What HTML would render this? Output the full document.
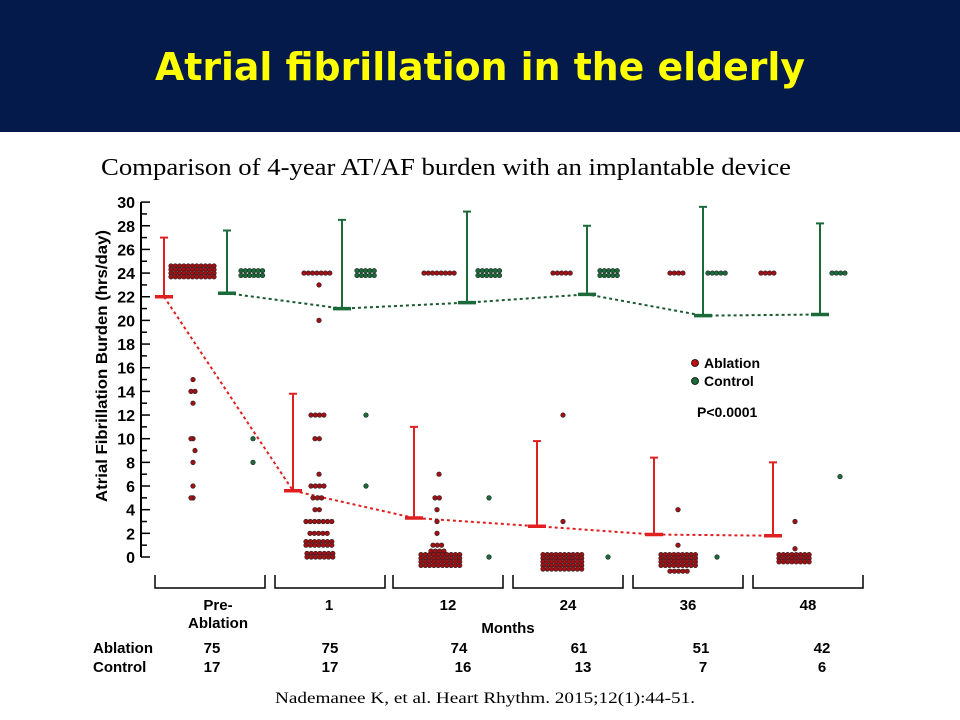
<!DOCTYPE html><html><head><style>
body{margin:0;width:960px;height:720px;background:#fff;overflow:hidden;font-family:"Liberation Sans",sans-serif}
.ban{position:absolute;left:0;top:0;width:960px;height:132px;background:#041a4a}
</style></head><body>
<div class="ban"></div>
<svg id="s" width="960" height="720" style="position:absolute;left:0;top:0" font-family="Liberation Sans, sans-serif">
<text x="155" y="80" fill="#ffff00" font-family="DejaVu Sans, sans-serif" font-weight="bold" font-size="38" textLength="650" lengthAdjust="spacingAndGlyphs">Atrial fibrillation in the elderly</text>
<text x="101" y="175" font-family="Liberation Serif, serif" font-size="24" textLength="690" lengthAdjust="spacingAndGlyphs">Comparison of 4-year AT/AF burden with an implantable device</text>
<text transform="translate(107,366) rotate(-90)" font-size="16" font-weight="bold" text-anchor="middle" x="0" textLength="272" lengthAdjust="spacingAndGlyphs">Atrial Fibrillation Burden (hrs/day)</text>
<g id="ax" stroke="#000" stroke-width="2"></g>
<g id="g"></g>
<g font-size="15" font-weight="bold" text-anchor="middle">
<text x="218" y="610">Pre-</text><text x="218" y="628">Ablation</text>
<text x="329" y="610">1</text><text x="448" y="610">12</text><text x="568" y="610">24</text><text x="688" y="610">36</text><text x="808" y="610">48</text>
<text x="508" y="633">Months</text>
<text x="93" y="653" text-anchor="start">Ablation</text><text x="93" y="672" text-anchor="start">Control</text>
<text x="212" y="653">75</text><text x="330" y="653">75</text><text x="459" y="653">74</text><text x="579" y="653">61</text><text x="701" y="653">51</text><text x="822" y="653">42</text>
<text x="212" y="672">17</text><text x="330" y="672">17</text><text x="463" y="672">16</text><text x="583" y="672">13</text><text x="703" y="672">7</text><text x="822" y="672">6</text>
</g>
<circle cx="695" cy="363" r="3.5" fill="#c01010" stroke="#000" stroke-width="0.8"/>
<circle cx="695" cy="381" r="3.5" fill="#1a6a3a" stroke="#000" stroke-width="0.8"/>
<g font-size="14" font-weight="bold"><text x="704" y="368">Ablation</text><text x="704" y="386">Control</text><text x="697" y="417">P&lt;0.0001</text></g>
<text x="275" y="703" font-family="Liberation Serif, serif" font-size="16" textLength="420" lengthAdjust="spacingAndGlyphs">Nademanee K, et al. Heart Rhythm. 2015;12(1):44-51.</text>
</svg>
<script>
const Y=v=>557-11.83*v,NS="http://www.w3.org/2000/svg";
const ax=document.getElementById('ax'),g=document.getElementById('g');
function el(p,t,a){const e=document.createElementNS(NS,t);for(const k in a)e.setAttribute(k,a[k]);p.appendChild(e);return e}
el(ax,'line',{x1:141,y1:Y(30),x2:141,y2:Y(0)});
for(let v=0;v<=30;v++){el(ax,'line',{x1:141,x2:v%2?147:150,y1:Y(v),y2:Y(v),'stroke-width':1.5});
 if(v%2==0){const t=el(g,'text',{x:135,y:Y(v)+6,'font-size':16,'font-weight':'bold','text-anchor':'end'});t.textContent=v}}
[[155,265],[275,385],[393,503],[513,623],[633,743],[753,863]].forEach(([a,b])=>el(ax,'polyline',{points:`${a},575 ${a},588 ${b},588 ${b},575`,fill:'none','stroke-width':1.5}));
const R='#a01015',G='#1a6a3a';
function dot(x,y,c){el(g,'circle',{cx:x,cy:y,r:2.3,fill:c,stroke:'#222','stroke-width':0.6})}
function row(x1,x2,v,c){for(let x=x1;x<=x2;x+=4.3)dot(x,Y(v),c)}
function block(x1,x2,v1,v2,c){for(let y=Y(v1);y<=Y(v2)+0.1;y+=3.6)for(let x=x1;x<=x2;x+=4.3)dot(x,y,c)}
function bar(x,top,mean,c){el(g,'line',{x1:x,x2:x,y1:Y(top),y2:Y(mean),stroke:c,'stroke-width':2});
 el(g,'line',{x1:x-4,x2:x+4,y1:Y(top),y2:Y(top),stroke:c,'stroke-width':2});
 el(g,'line',{x1:x-9,x2:x+9,y1:Y(mean),y2:Y(mean),stroke:c,'stroke-width':3.5})}
const rd=[[164,22],[293,5.6],[414,3.3],[537,2.6],[654,1.9],[773,1.8]],gd=[[227,22.3],[342,21],[467,21.5],[587,22.2],[703,20.4],[820,20.5]];
el(g,'polyline',{points:rd.map(p=>p[0]+','+Y(p[1])).join(' '),fill:'none',stroke:'#e02020','stroke-width':2,'stroke-dasharray':'3,3'});
el(g,'polyline',{points:gd.map(p=>p[0]+','+Y(p[1])).join(' '),fill:'none',stroke:'#1a5a30','stroke-width':2,'stroke-dasharray':'3,3'});
block(171,217,24.6,23.4,R);row(241,264,24.2,G);row(241,264,23.8,G);
[15,14,14,13,10,10,9,8,6,5,5].forEach((v,i)=>dot(193+((i==1||i==5||i==10)?-2:(i==2||i==6)?2:0),Y(v),R));dot(253,Y(10),G);dot(253,Y(8),G);
bar(164,27,22,'#e02020');bar(227,27.6,22.3,G);
row(304,334,24,R);dot(319,Y(23),R);dot(319,Y(20),R);
[[12,311,327],[10,315,323],[7,319,319],[6,311,327],[5,313,325],[4,315,323],[3,306,332],[2,310,328],[1.3,306,332],[1,306,332],[0.3,307,333],[0,307,333]].forEach(([v,a,b])=>row(a,b,v,R));
row(357,378,24.2,G);row(357,378,23.8,G);dot(366,Y(12),G);dot(366,Y(6),G);
bar(293,13.8,5.6,'#e02020');bar(342,28.5,21,G);
row(424,456,24,R);[[7,439,439],[5,435,443],[4,437,441],[3,437,441],[2,437,441],[1,433,445],[0.5,431,447]].forEach(([v,a,b])=>row(a,b,v,R));
block(421,460,0.2,-0.8,R);row(478,500,24.2,G);row(478,500,23.8,G);dot(489,Y(5),G);dot(489,Y(0),G);
bar(414,11,3.3,'#e02020');bar(467,29.2,21.5,G);
row(553,573,24,R);dot(563,Y(12),R);dot(563,Y(3),R);block(543,583,0.2,-1.1,R);
row(600,619,24.2,G);row(600,619,23.8,G);dot(608,Y(0),G);
bar(537,9.8,2.6,'#e02020');bar(587,28,22.2,G);
row(670,684,24,R);dot(678,Y(4),R);dot(678,Y(1),R);block(661,696,0.2,-0.9,R);row(670,688,-1.2,R);
row(708,729,24,G);dot(717,Y(0),G);
bar(654,8.4,1.9,'#e02020');bar(703,29.6,20.4,G);
row(761,775,24,R);dot(795,Y(3),R);dot(795,Y(0.7),R);block(779,813,0.2,-0.7,R);
row(832,848,24,G);dot(840,Y(6.8),G);
bar(773,8,1.8,'#e02020');bar(820,28.2,20.5,G);
</script>
</body></html>
